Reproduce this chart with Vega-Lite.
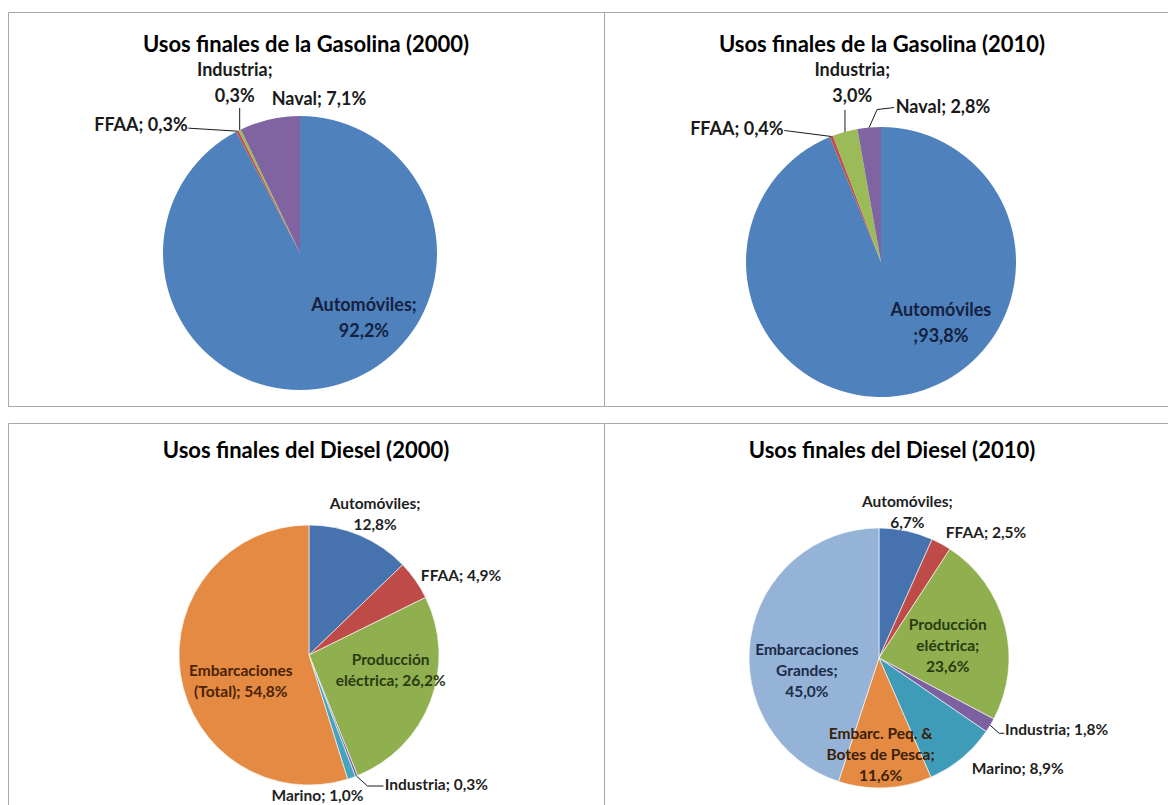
{
  "$schema": "https://vega.github.io/schema/vega-lite/v6.json",
  "background": "white",
  "padding": {"left": 7, "top": 11, "right": 0, "bottom": 0},
  "spacing": 15,
  "resolve": {"scale": {"color": "independent", "theta": "independent"}},
  "config": {
    "view": {"stroke": "#a8a8a8", "strokeWidth": 1},
    "title": {"font": "Lato", "fontSize": 22, "fontWeight": "bold", "color": "#000000", "anchor": "middle", "baseline": "middle", "frame": "group"},
    "text": {"font": "Lato", "fontWeight": "bold", "lineBreak": "\n"},
    "rule": {"color": "#1a1a1a", "strokeWidth": 1}
  },
  "datasets": {
    "gasolina2000": [
      {"uso": "Automóviles", "pct": 92.2, "orden": 1},
      {"uso": "FFAA", "pct": 0.3, "orden": 2},
      {"uso": "Industria", "pct": 0.3, "orden": 3},
      {"uso": "Naval", "pct": 7.1, "orden": 4}
    ],
    "gasolina2010": [
      {"uso": "Automóviles", "pct": 93.8, "orden": 1},
      {"uso": "FFAA", "pct": 0.4, "orden": 2},
      {"uso": "Industria", "pct": 3.0, "orden": 3},
      {"uso": "Naval", "pct": 2.8, "orden": 4}
    ],
    "diesel2000": [
      {"uso": "Automóviles", "pct": 12.8, "orden": 1},
      {"uso": "FFAA", "pct": 4.9, "orden": 2},
      {"uso": "Producción eléctrica", "pct": 26.2, "orden": 3},
      {"uso": "Industria", "pct": 0.3, "orden": 4},
      {"uso": "Marino", "pct": 1.0, "orden": 5},
      {"uso": "Embarcaciones (Total)", "pct": 54.8, "orden": 6}
    ],
    "diesel2010": [
      {"uso": "Automóviles", "pct": 6.7, "orden": 1},
      {"uso": "FFAA", "pct": 2.5, "orden": 2},
      {"uso": "Producción eléctrica", "pct": 23.6, "orden": 3},
      {"uso": "Industria", "pct": 1.8, "orden": 4},
      {"uso": "Marino", "pct": 8.9, "orden": 5},
      {"uso": "Embarc. Peq. & Botes de Pesca", "pct": 11.6, "orden": 6},
      {"uso": "Embarcaciones Grandes", "pct": 45.0, "orden": 7}
    ]
  },
  "vconcat": [
    {
      "spacing": 0,
      "bounds": "flush",
      "resolve": {"scale": {"color": "independent", "theta": "independent"}},
      "hconcat": [
        {
          "width": 596,
          "height": 394,
          "title": {"text": "Usos finales de la Gasolina (2000)", "offset": -45},
          "data": {"name": "gasolina2000"},
          "transform": [
            {"stack": "pct", "groupby": [], "sort": [{"field": "orden", "order": "ascending"}], "offset": "normalize", "as": ["ini", "fin"]},
            {"calculate": "(datum.ini + datum.fin) / 2", "as": "mid"},
            {"calculate": "replace(format(datum.pct, '.1f'), '.', ',') + '%'", "as": "pctTxt"}
          ],
          "layer": [
            {
              "mark": {"type": "arc", "radius": 137, "x": 292, "y": 241},
              "encoding": {
                "theta": {"field": "ini", "type": "quantitative", "scale": {"domain": [0, 1]}},
                "theta2": {"field": "fin"},
                "color": {"field": "uso", "type": "nominal", "legend": null,
                  "scale": {"domain": ["Automóviles", "FFAA", "Industria", "Naval"], "range": ["#4F81BD", "#C0504D", "#9BBB59", "#8064A2"]}}
              }
            },
            {
              "transform": [{"filter": "datum.uso === 'Automóviles'"}, {"calculate": "datum.uso + ';\\n' + datum.pctTxt", "as": "lbl"}],
              "mark": {"type": "text", "x": 292, "y": 241, "radius": 79, "dx": 45, "dy": -24, "fontSize": 18, "lineHeight": 26, "color": "#15223f"},
              "encoding": {"theta": {"field": "mid", "type": "quantitative", "scale": {"domain": [0, 1]}}, "text": {"field": "lbl"}}
            },
            {
              "transform": [{"filter": "datum.uso === 'Industria'"}, {"calculate": "datum.uso + ';\\n' + datum.pctTxt", "as": "lbl"}],
              "mark": {"type": "text", "x": 292, "y": 241, "radius": 180, "dx": 14, "dy": -20, "fontSize": 18, "lineHeight": 26, "color": "#1a1a1a"},
              "encoding": {"theta": {"field": "mid", "type": "quantitative", "scale": {"domain": [0, 1]}}, "text": {"field": "lbl"}}
            },
            {
              "transform": [{"filter": "datum.uso === 'Naval'"}, {"calculate": "datum.uso + '; ' + datum.pctTxt", "as": "lbl"}],
              "mark": {"type": "text", "x": 292, "y": 241, "radius": 145, "dx": 51, "dy": -12, "fontSize": 18, "color": "#1a1a1a"},
              "encoding": {"theta": {"field": "mid", "type": "quantitative", "scale": {"domain": [0, 1]}}, "text": {"field": "lbl"}}
            },
            {
              "transform": [{"filter": "datum.uso === 'FFAA'"}, {"calculate": "datum.uso + '; ' + datum.pctTxt", "as": "lbl"}],
              "mark": {"type": "text", "x": 292, "y": 241, "radius": 186, "dx": -74, "dy": 38, "fontSize": 18, "color": "#1a1a1a"},
              "encoding": {"theta": {"field": "mid", "type": "quantitative", "scale": {"domain": [0, 1]}}, "text": {"field": "lbl"}}
            },
            {
              "transform": [
                {"filter": "datum.uso === 'FFAA'"},
                {"calculate": "292 + 137 * sin(2 * PI * datum.mid)", "as": "ex"},
                {"calculate": "241 - 137 * cos(2 * PI * datum.mid)", "as": "ey"},
                {"calculate": "datum.ex - 49", "as": "ex2"},
                {"calculate": "datum.ey - 3", "as": "ey2"}
              ],
              "mark": {"type": "rule"},
              "encoding": {
                "x": {"field": "ex", "type": "quantitative", "scale": null}, "y": {"field": "ey", "type": "quantitative", "scale": null},
                "x2": {"field": "ex2"}, "y2": {"field": "ey2"}
              }
            },
            {
              "transform": [
                {"filter": "datum.uso === 'Industria'"},
                {"calculate": "292 + 137 * sin(2 * PI * datum.mid)", "as": "ex"},
                {"calculate": "241 - 137 * cos(2 * PI * datum.mid)", "as": "ey"},
                {"calculate": "datum.ex", "as": "ex2"},
                {"calculate": "datum.ey - 22", "as": "ey2"}
              ],
              "mark": {"type": "rule"},
              "encoding": {
                "x": {"field": "ex", "type": "quantitative", "scale": null}, "y": {"field": "ey", "type": "quantitative", "scale": null},
                "x2": {"field": "ex2"}, "y2": {"field": "ey2"}
              }
            }
          ]
        },
        {
          "width": 580,
          "height": 394,
          "title": {"text": "Usos finales de la Gasolina (2010)", "offset": -45, "dx": -12},
          "data": {"name": "gasolina2010"},
          "transform": [
            {"stack": "pct", "groupby": [], "sort": [{"field": "orden", "order": "ascending"}], "offset": "normalize", "as": ["ini", "fin"]},
            {"calculate": "(datum.ini + datum.fin) / 2", "as": "mid"},
            {"calculate": "replace(format(datum.pct, '.1f'), '.', ',') + '%'", "as": "pctTxt"}
          ],
          "layer": [
            {
              "mark": {"type": "arc", "radius": 135, "x": 277, "y": 250},
              "encoding": {
                "theta": {"field": "ini", "type": "quantitative", "scale": {"domain": [0, 1]}},
                "theta2": {"field": "fin"},
                "color": {"field": "uso", "type": "nominal", "legend": null,
                  "scale": {"domain": ["Automóviles", "FFAA", "Industria", "Naval"], "range": ["#4F81BD", "#C0504D", "#9BBB59", "#8064A2"]}}
              }
            },
            {
              "transform": [{"filter": "datum.uso === 'Automóviles'"}, {"calculate": "datum.uso + '\\n;' + datum.pctTxt", "as": "lbl"}],
              "mark": {"type": "text", "x": 277, "y": 250, "radius": 72, "dx": 46, "dy": -22, "fontSize": 18, "lineHeight": 26, "color": "#15223f"},
              "encoding": {"theta": {"field": "mid", "type": "quantitative", "scale": {"domain": [0, 1]}}, "text": {"field": "lbl"}}
            },
            {
              "transform": [{"filter": "datum.uso === 'Industria'"}, {"calculate": "datum.uso + ';\\n' + datum.pctTxt", "as": "lbl"}],
              "mark": {"type": "text", "x": 277, "y": 250, "radius": 179, "dx": 19, "dy": -18, "fontSize": 18, "lineHeight": 26, "color": "#1a1a1a"},
              "encoding": {"theta": {"field": "mid", "type": "quantitative", "scale": {"domain": [0, 1]}}, "text": {"field": "lbl"}}
            },
            {
              "transform": [{"filter": "datum.uso === 'Naval'"}, {"calculate": "datum.uso + '; ' + datum.pctTxt", "as": "lbl"}],
              "mark": {"type": "text", "x": 277, "y": 250, "radius": 148, "dx": 75, "dy": -7, "fontSize": 18, "color": "#1a1a1a"},
              "encoding": {"theta": {"field": "mid", "type": "quantitative", "scale": {"domain": [0, 1]}}, "text": {"field": "lbl"}}
            },
            {
              "transform": [{"filter": "datum.uso === 'FFAA'"}, {"calculate": "datum.uso + '; ' + datum.pctTxt", "as": "lbl"}],
              "mark": {"type": "text", "x": 277, "y": 250, "radius": 177, "dx": -79, "dy": 33, "fontSize": 18, "color": "#1a1a1a"},
              "encoding": {"theta": {"field": "mid", "type": "quantitative", "scale": {"domain": [0, 1]}}, "text": {"field": "lbl"}}
            },
            {
              "transform": [
                {"filter": "datum.uso === 'FFAA'"},
                {"calculate": "277 + 135 * sin(2 * PI * datum.mid)", "as": "ex"},
                {"calculate": "250 - 135 * cos(2 * PI * datum.mid)", "as": "ey"},
                {"calculate": "datum.ex - 47", "as": "ex2"},
                {"calculate": "datum.ey - 6", "as": "ey2"}
              ],
              "mark": {"type": "rule"},
              "encoding": {
                "x": {"field": "ex", "type": "quantitative", "scale": null}, "y": {"field": "ey", "type": "quantitative", "scale": null},
                "x2": {"field": "ex2"}, "y2": {"field": "ey2"}
              }
            },
            {
              "transform": [
                {"filter": "datum.uso === 'Industria'"},
                {"calculate": "277 + 135 * sin(2 * PI * datum.mid)", "as": "ex"},
                {"calculate": "250 - 135 * cos(2 * PI * datum.mid)", "as": "ey"},
                {"calculate": "datum.ex", "as": "ex2"},
                {"calculate": "datum.ey - 22", "as": "ey2"}
              ],
              "mark": {"type": "rule"},
              "encoding": {
                "x": {"field": "ex", "type": "quantitative", "scale": null}, "y": {"field": "ey", "type": "quantitative", "scale": null},
                "x2": {"field": "ex2"}, "y2": {"field": "ey2"}
              }
            },
            {
              "transform": [
                {"filter": "datum.uso === 'Naval'"},
                {"calculate": "277 + 135 * sin(2 * PI * datum.mid)", "as": "ex"},
                {"calculate": "250 - 135 * cos(2 * PI * datum.mid)", "as": "ey"},
                {"calculate": "datum.ex + 8", "as": "ex2"},
                {"calculate": "datum.ey - 18", "as": "ey2"}
              ],
              "mark": {"type": "rule"},
              "encoding": {
                "x": {"field": "ex", "type": "quantitative", "scale": null}, "y": {"field": "ey", "type": "quantitative", "scale": null},
                "x2": {"field": "ex2"}, "y2": {"field": "ey2"}
              }
            },
            {
              "transform": [
                {"filter": "datum.uso === 'Naval'"},
                {"calculate": "277 + 135 * sin(2 * PI * datum.mid) + 8", "as": "ex"},
                {"calculate": "250 - 135 * cos(2 * PI * datum.mid) - 18", "as": "ey"},
                {"calculate": "datum.ex + 17", "as": "ex2"},
                {"calculate": "datum.ey - 2", "as": "ey2"}
              ],
              "mark": {"type": "rule"},
              "encoding": {
                "x": {"field": "ex", "type": "quantitative", "scale": null}, "y": {"field": "ey", "type": "quantitative", "scale": null},
                "x2": {"field": "ex2"}, "y2": {"field": "ey2"}
              }
            }
          ]
        }
      ]
    },
    {
      "spacing": 0,
      "bounds": "flush",
      "resolve": {"scale": {"color": "independent", "theta": "independent"}},
      "hconcat": [
        {
          "width": 596,
          "height": 400,
          "title": {"text": "Usos finales del Diesel (2000)", "offset": -40},
          "data": {"name": "diesel2000"},
          "transform": [
            {"stack": "pct", "groupby": [], "sort": [{"field": "orden", "order": "ascending"}], "offset": "normalize", "as": ["ini", "fin"]},
            {"calculate": "(datum.ini + datum.fin) / 2", "as": "mid"},
            {"calculate": "replace(format(datum.pct, '.1f'), '.', ',') + '%'", "as": "pctTxt"}
          ],
          "layer": [
            {
              "mark": {"type": "arc", "radius": 130, "x": 301, "y": 232, "stroke": "#ffffff", "strokeWidth": 0.6},
              "encoding": {
                "theta": {"field": "ini", "type": "quantitative", "scale": {"domain": [0, 1]}},
                "theta2": {"field": "fin"},
                "color": {"field": "uso", "type": "nominal", "legend": null,
                  "scale": {"domain": ["Automóviles", "FFAA", "Producción eléctrica", "Industria", "Marino", "Embarcaciones (Total)"],
                    "range": ["#4672AD", "#BE4B48", "#90B050", "#7D60A0", "#45A3BE", "#E58A42"]}}
              }
            },
            {
              "transform": [{"filter": "datum.uso === 'Automóviles'"}, {"calculate": "datum.uso + ';\\n' + datum.pctTxt", "as": "lbl"}],
              "mark": {"type": "text", "x": 301, "y": 232, "radius": 156, "dx": 5, "dy": -7, "fontSize": 15.5, "lineHeight": 21, "color": "#1f1f1f"},
              "encoding": {"theta": {"field": "mid", "type": "quantitative", "scale": {"domain": [0, 1]}}, "text": {"field": "lbl"}}
            },
            {
              "transform": [{"filter": "datum.uso === 'FFAA'"}, {"calculate": "datum.uso + '; ' + datum.pctTxt", "as": "lbl"}],
              "mark": {"type": "text", "x": 301, "y": 232, "radius": 170, "dx": 13, "dy": 19, "fontSize": 15.5, "color": "#1f1f1f"},
              "encoding": {"theta": {"field": "mid", "type": "quantitative", "scale": {"domain": [0, 1]}}, "text": {"field": "lbl"}}
            },
            {
              "transform": [{"filter": "datum.uso === 'Producción eléctrica'"}, {"calculate": "replace(datum.uso, ' ', '\\n') + '; ' + datum.pctTxt", "as": "lbl"}],
              "mark": {"type": "text", "x": 301, "y": 232, "radius": 82, "dx": 5, "dy": -24.5, "fontSize": 15.5, "lineHeight": 21, "color": "#2b3a10"},
              "encoding": {"theta": {"field": "mid", "type": "quantitative", "scale": {"domain": [0, 1]}}, "text": {"field": "lbl"}}
            },
            {
              "transform": [{"filter": "datum.uso === 'Embarcaciones (Total)'"}, {"calculate": "replace(datum.uso, ' ', '\\n') + '; ' + datum.pctTxt", "as": "lbl"}],
              "mark": {"type": "text", "x": 301, "y": 232, "radius": 71, "dx": 2, "dy": 5.5, "fontSize": 15.5, "lineHeight": 21, "color": "#4a2306"},
              "encoding": {"theta": {"field": "mid", "type": "quantitative", "scale": {"domain": [0, 1]}}, "text": {"field": "lbl"}}
            },
            {
              "transform": [{"filter": "datum.uso === 'Industria'"}, {"calculate": "datum.uso + '; ' + datum.pctTxt", "as": "lbl"}],
              "mark": {"type": "text", "x": 301, "y": 232, "radius": 168, "dx": 66, "dy": -26, "fontSize": 15.5, "color": "#1f1f1f"},
              "encoding": {"theta": {"field": "mid", "type": "quantitative", "scale": {"domain": [0, 1]}}, "text": {"field": "lbl"}}
            },
            {
              "transform": [{"filter": "datum.uso === 'Marino'"}, {"calculate": "datum.uso + '; ' + datum.pctTxt", "as": "lbl"}],
              "mark": {"type": "text", "x": 301, "y": 232, "radius": 136, "dx": -36, "dy": 12, "fontSize": 15.5, "color": "#1f1f1f"},
              "encoding": {"theta": {"field": "mid", "type": "quantitative", "scale": {"domain": [0, 1]}}, "text": {"field": "lbl"}}
            },
            {
              "transform": [
                {"filter": "datum.uso === 'Industria'"},
                {"calculate": "301 + 130 * sin(2 * PI * datum.mid)", "as": "ex"},
                {"calculate": "232 - 130 * cos(2 * PI * datum.mid)", "as": "ey"},
                {"calculate": "datum.ex + 11", "as": "ex2"},
                {"calculate": "datum.ey + 10", "as": "ey2"}
              ],
              "mark": {"type": "rule"},
              "encoding": {
                "x": {"field": "ex", "type": "quantitative", "scale": null}, "y": {"field": "ey", "type": "quantitative", "scale": null},
                "x2": {"field": "ex2"}, "y2": {"field": "ey2"}
              }
            },
            {
              "transform": [
                {"filter": "datum.uso === 'Industria'"},
                {"calculate": "301 + 130 * sin(2 * PI * datum.mid) + 11", "as": "ex"},
                {"calculate": "232 - 130 * cos(2 * PI * datum.mid) + 10", "as": "ey"},
                {"calculate": "datum.ex + 16", "as": "ex2"},
                {"calculate": "datum.ey", "as": "ey2"}
              ],
              "mark": {"type": "rule"},
              "encoding": {
                "x": {"field": "ex", "type": "quantitative", "scale": null}, "y": {"field": "ey", "type": "quantitative", "scale": null},
                "x2": {"field": "ex2"}, "y2": {"field": "ey2"}
              }
            }
          ]
        },
        {
          "width": 580,
          "height": 400,
          "title": {"text": "Usos finales del Diesel (2010)", "offset": -40, "dx": -2},
          "data": {"name": "diesel2010"},
          "transform": [
            {"stack": "pct", "groupby": [], "sort": [{"field": "orden", "order": "ascending"}], "offset": "normalize", "as": ["ini", "fin"]},
            {"calculate": "(datum.ini + datum.fin) / 2", "as": "mid"},
            {"calculate": "replace(format(datum.pct, '.1f'), '.', ',') + '%'", "as": "pctTxt"}
          ],
          "layer": [
            {
              "mark": {"type": "arc", "radius": 130, "x": 275, "y": 235, "stroke": "#ffffff", "strokeWidth": 0.6},
              "encoding": {
                "theta": {"field": "ini", "type": "quantitative", "scale": {"domain": [0, 1]}},
                "theta2": {"field": "fin"},
                "color": {"field": "uso", "type": "nominal", "legend": null,
                  "scale": {"domain": ["Automóviles", "FFAA", "Producción eléctrica", "Industria", "Marino", "Embarc. Peq. & Botes de Pesca", "Embarcaciones Grandes"],
                    "range": ["#4672AD", "#BE4B48", "#90B050", "#7D60A0", "#3F9CB8", "#E58A42", "#95B3D7"]}}
              }
            },
            {
              "transform": [{"filter": "datum.uso === 'Automóviles'"}, {"calculate": "datum.uso + ';\\n' + datum.pctTxt", "as": "lbl"}],
              "mark": {"type": "text", "x": 275, "y": 235, "radius": 150, "dx": -3, "dy": -9, "fontSize": 15.5, "lineHeight": 21, "color": "#1f1f1f"},
              "encoding": {"theta": {"field": "mid", "type": "quantitative", "scale": {"domain": [0, 1]}}, "text": {"field": "lbl"}}
            },
            {
              "transform": [{"filter": "datum.uso === 'FFAA'"}, {"calculate": "datum.uso + '; ' + datum.pctTxt", "as": "lbl"}],
              "mark": {"type": "text", "x": 275, "y": 235, "radius": 161, "dx": 30, "dy": 16, "fontSize": 15.5, "color": "#1f1f1f"},
              "encoding": {"theta": {"field": "mid", "type": "quantitative", "scale": {"domain": [0, 1]}}, "text": {"field": "lbl"}}
            },
            {
              "transform": [{"filter": "datum.uso === 'Producción eléctrica'"}, {"calculate": "replace(datum.uso, ' ', '\\n') + ';\\n' + datum.pctTxt", "as": "lbl"}],
              "mark": {"type": "text", "x": 275, "y": 235, "radius": 70, "dx": 1, "dy": -16, "fontSize": 15.5, "lineHeight": 21, "color": "#2b3a10"},
              "encoding": {"theta": {"field": "mid", "type": "quantitative", "scale": {"domain": [0, 1]}}, "text": {"field": "lbl"}}
            },
            {
              "transform": [{"filter": "datum.uso === 'Industria'"}, {"calculate": "datum.uso + '; ' + datum.pctTxt", "as": "lbl"}],
              "mark": {"type": "text", "x": 275, "y": 235, "radius": 189, "dx": 16, "dy": -26, "fontSize": 15.5, "color": "#1f1f1f"},
              "encoding": {"theta": {"field": "mid", "type": "quantitative", "scale": {"domain": [0, 1]}}, "text": {"field": "lbl"}}
            },
            {
              "transform": [{"filter": "datum.uso === 'Marino'"}, {"calculate": "datum.uso + '; ' + datum.pctTxt", "as": "lbl"}],
              "mark": {"type": "text", "x": 275, "y": 235, "radius": 174, "dx": 28, "dy": -23, "fontSize": 15.5, "color": "#1f1f1f"},
              "encoding": {"theta": {"field": "mid", "type": "quantitative", "scale": {"domain": [0, 1]}}, "text": {"field": "lbl"}}
            },
            {
              "transform": [{"filter": "datum.uso === 'Embarc. Peq. & Botes de Pesca'"}, {"calculate": "replace(datum.uso, '& ', '&\\n') + ';\\n' + datum.pctTxt", "as": "lbl"}],
              "mark": {"type": "text", "x": 275, "y": 235, "radius": 97, "dx": -3, "dy": -21, "fontSize": 15.5, "lineHeight": 21, "color": "#3a2108"},
              "encoding": {"theta": {"field": "mid", "type": "quantitative", "scale": {"domain": [0, 1]}}, "text": {"field": "lbl"}}
            },
            {
              "transform": [{"filter": "datum.uso === 'Embarcaciones Grandes'"}, {"calculate": "replace(datum.uso, ' ', '\\n') + ';\\n' + datum.pctTxt", "as": "lbl"}],
              "mark": {"type": "text", "x": 275, "y": 235, "radius": 69, "dx": -4, "dy": 3, "fontSize": 15.5, "lineHeight": 21, "color": "#1c2c4a"},
              "encoding": {"theta": {"field": "mid", "type": "quantitative", "scale": {"domain": [0, 1]}}, "text": {"field": "lbl"}}
            },
            {
              "transform": [
                {"filter": "datum.uso === 'Industria'"},
                {"calculate": "275 + 130 * sin(2 * PI * datum.mid)", "as": "ex"},
                {"calculate": "235 - 130 * cos(2 * PI * datum.mid)", "as": "ey"},
                {"calculate": "datum.ex + 9", "as": "ex2"},
                {"calculate": "datum.ey + 8", "as": "ey2"}
              ],
              "mark": {"type": "rule"},
              "encoding": {
                "x": {"field": "ex", "type": "quantitative", "scale": null}, "y": {"field": "ey", "type": "quantitative", "scale": null},
                "x2": {"field": "ex2"}, "y2": {"field": "ey2"}
              }
            },
            {
              "transform": [
                {"filter": "datum.uso === 'Industria'"},
                {"calculate": "275 + 130 * sin(2 * PI * datum.mid) + 9", "as": "ex"},
                {"calculate": "235 - 130 * cos(2 * PI * datum.mid) + 8", "as": "ey"},
                {"calculate": "datum.ex + 5", "as": "ex2"},
                {"calculate": "datum.ey", "as": "ey2"}
              ],
              "mark": {"type": "rule"},
              "encoding": {
                "x": {"field": "ex", "type": "quantitative", "scale": null}, "y": {"field": "ey", "type": "quantitative", "scale": null},
                "x2": {"field": "ex2"}, "y2": {"field": "ey2"}
              }
            }
          ]
        }
      ]
    }
  ]
}
